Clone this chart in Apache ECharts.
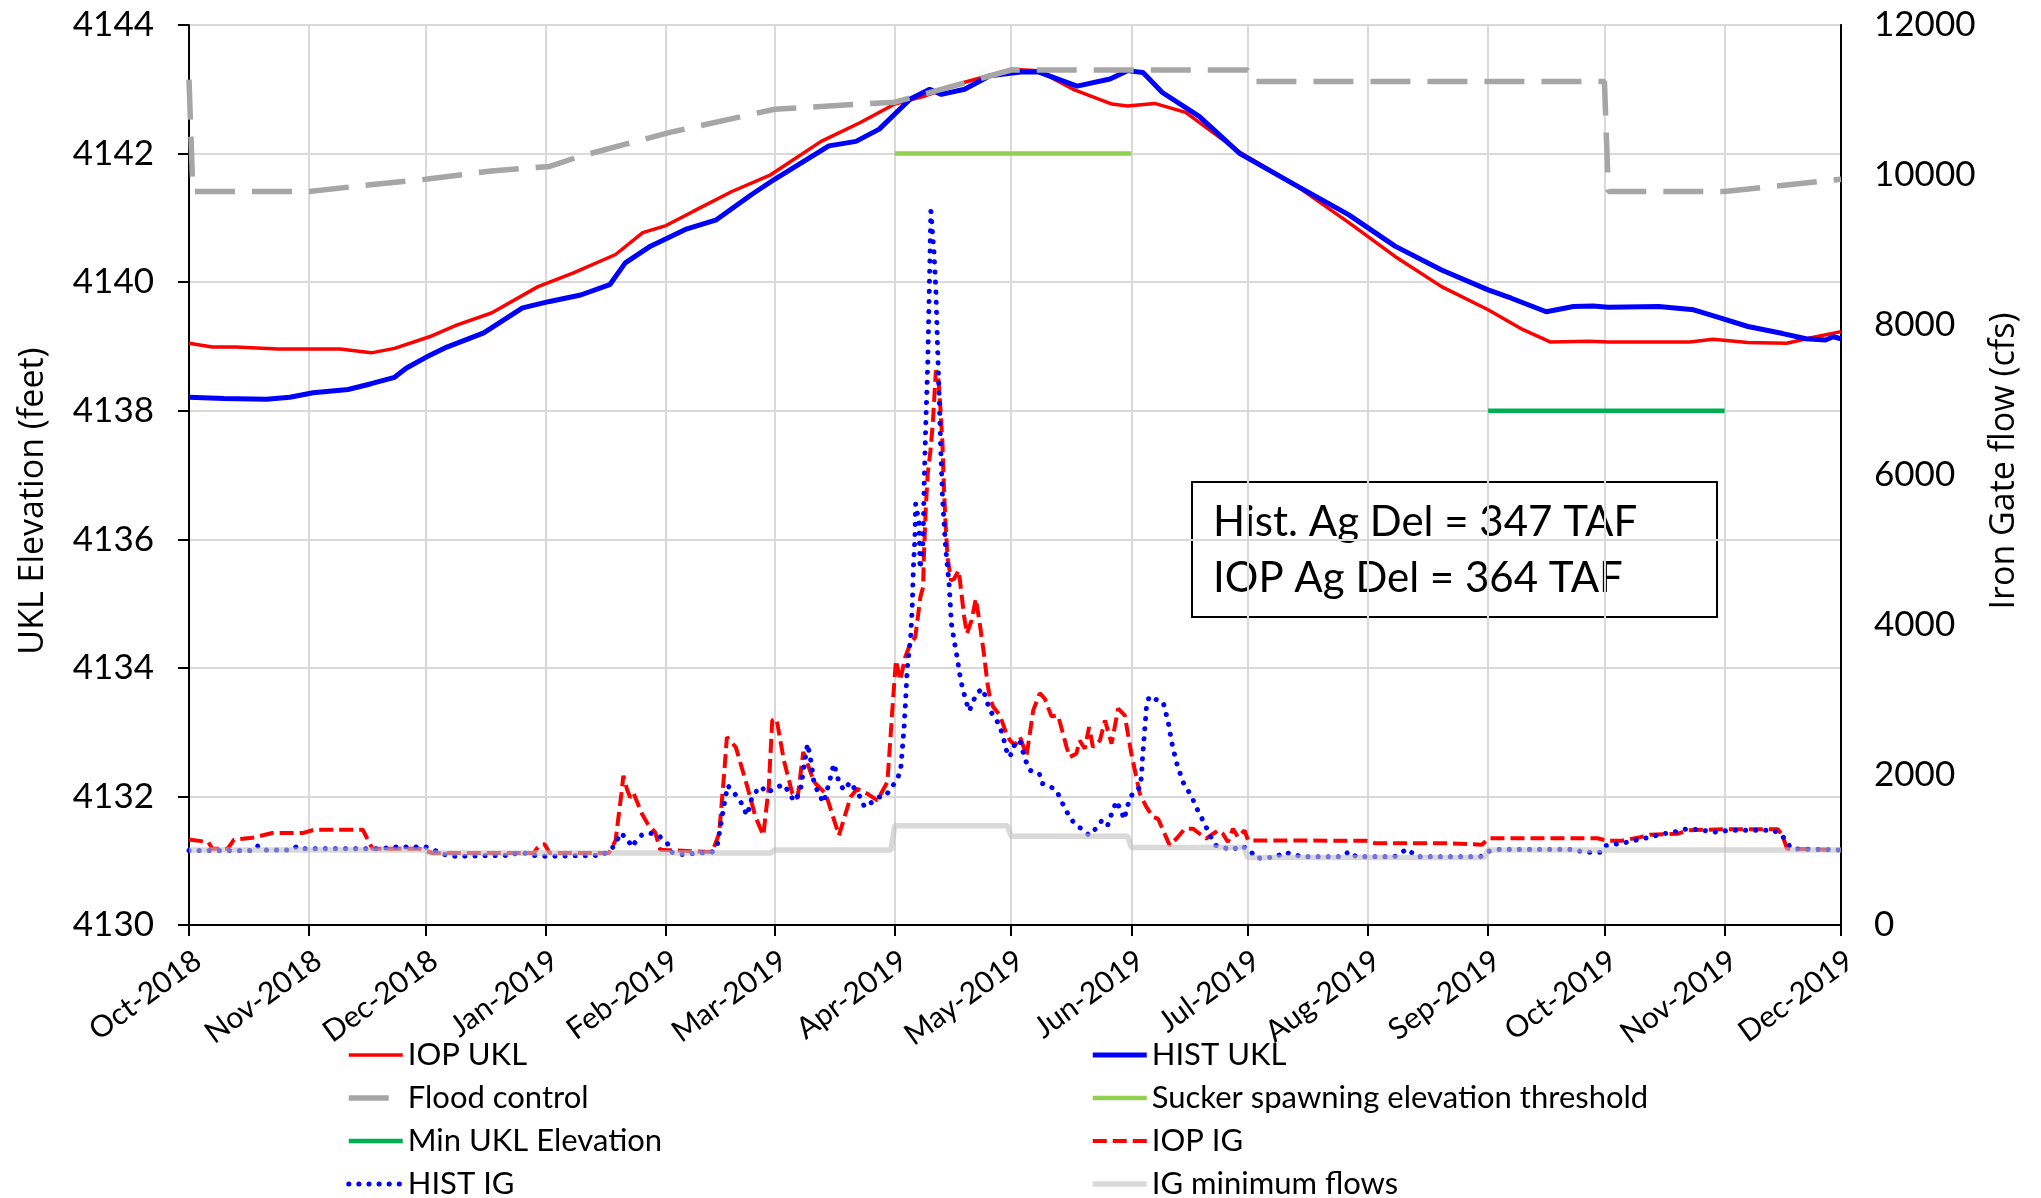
<!DOCTYPE html>
<html>
<head>
<meta charset="utf-8">
<script src="https://cdn.jsdelivr.net/npm/echarts@6/dist/echarts.min.js"></script>
<style>
  html, body { margin: 0; padding: 0; background: #fff; }
  #chart { width: 2041px; height: 1198px; }
</style>
</head>
<body>
<div id="chart"></div>
<script>
// x values are days since 1-Oct-2018
const iopUklDay = [0, 6, 12, 23, 39, 47, 53, 62, 69, 78, 90, 99, 110, 117, 123, 130, 140, 150, 163, 173, 182, 190, 200, 212, 219, 228, 238, 242, 249, 257, 271, 285, 299, 311, 323, 335, 344, 351, 361, 366, 387, 393, 402, 412, 418, 426]
const iopUklVal = [4139.05, 4138.99, 4138.99, 4138.96, 4138.96, 4138.90, 4138.97, 4139.15, 4139.33, 4139.52, 4139.93, 4140.14, 4140.43, 4140.77, 4140.88, 4141.10, 4141.41, 4141.67, 4142.19, 4142.48, 4142.77, 4142.90, 4143.11, 4143.31, 4143.29, 4143.00, 4142.77, 4142.74, 4142.78, 4142.64, 4142.02, 4141.52, 4140.93, 4140.40, 4139.93, 4139.57, 4139.26, 4139.07, 4139.08, 4139.07, 4139.07, 4139.11, 4139.06, 4139.05, 4139.13, 4139.23]

const histUklDay = [0, 9, 20, 26, 32, 41, 47, 53, 56, 62, 66.5, 76, 86, 93, 101, 108.5, 112.5, 119, 128, 136, 145, 151, 165, 172, 178, 186, 191, 194, 200, 206.5, 214.5, 219, 229, 237.5, 242, 246, 251, 260.5, 271, 285, 299, 311, 323, 335, 341, 350, 357, 362, 366, 379, 388, 394, 402, 411, 417, 422, 424, 426]
const histUklVal = [4138.21, 4138.19, 4138.18, 4138.21, 4138.28, 4138.33, 4138.42, 4138.52, 4138.66, 4138.86, 4138.99, 4139.21, 4139.60, 4139.70, 4139.80, 4139.96, 4140.30, 4140.56, 4140.82, 4140.97, 4141.36, 4141.60, 4142.12, 4142.19, 4142.38, 4142.85, 4143.00, 4142.92, 4143.00, 4143.21, 4143.27, 4143.27, 4143.05, 4143.16, 4143.29, 4143.26, 4142.95, 4142.58, 4142.00, 4141.52, 4141.05, 4140.56, 4140.19, 4139.88, 4139.75, 4139.54, 4139.62, 4139.63, 4139.61, 4139.62, 4139.57, 4139.46, 4139.31, 4139.20, 4139.12, 4139.10, 4139.15, 4139.12]

const floodDay = [0, 1, 31, 43, 61, 78, 93, 101, 124, 130, 151, 165, 182, 188, 212, 273, 274, 365, 366, 396, 426]
const floodVal = [4143.15, 4141.41, 4141.41, 4141.49, 4141.60, 4141.73, 4141.80, 4141.96, 4142.33, 4142.41, 4142.69, 4142.74, 4142.80, 4142.90, 4143.30, 4143.30, 4143.12, 4143.12, 4141.41, 4141.41, 4141.60]

const suckerDay = [182, 243]
const suckerVal = [4142, 4142]

const minUklDay = [335, 396]
const minUklVal = [4138, 4138]

const iopIgDay = [0, 5, 6, 10, 11.6, 16.4, 21.5, 29.3, 32.3, 44.8, 47.3, 59.4, 62.8, 88.9, 90.3, 91.7, 93, 108.3, 110, 111.5, 112, 113, 113.8, 114.6, 116.8, 118.5, 120.2, 121.5, 123, 134.9, 136.7, 138, 138.7, 141, 144, 146.1, 148.1, 149.5, 150.4, 151.5, 153.4, 155.6, 156.9, 158.4, 161.2, 164.2, 167.6, 170.6, 172.3, 174.9, 177.5, 180.1, 181.6, 182.3, 183.4, 184.7, 186, 187.3, 188.6, 189.3, 189.5, 190, 190.5, 191.2, 191.8, 192.2, 192.6, 193.2, 193.7, 194.3, 194.7, 195.1, 195.6, 196.5, 197.3, 198.5, 199.9, 200.6, 201.8, 202.9, 203.8, 205.1, 205.9, 206.6, 207.4, 209.1, 210.8, 211.7, 213, 214.3, 216, 217.7, 219.4, 220.7, 222.4, 224.1, 226.3, 227.1, 228.8, 229.7, 231, 232.1, 233.1, 234.9, 236.2, 237.9, 239.6, 241.3, 243, 245.2, 246.9, 248.6, 249.9, 251.2, 252.9, 254.6, 256.8, 258.9, 260.6, 262.3, 264.1, 265.4, 266.6, 267.9, 269.2, 270.5, 272.2, 273.1, 303.5, 305.9, 324.2, 333.4, 335.2, 363.2, 365.7, 369.4, 374.2, 376.7, 384, 386.5, 396.3, 409.7, 410.9, 412.1, 426]
const iopIgVal = [1140, 1105, 1017, 1017, 1137, 1164, 1226, 1226, 1271, 1271, 1017, 1017, 960, 960, 1061, 1076, 960, 960, 1128, 1750, 1990, 1800, 1700, 1760, 1484, 1328, 1239, 1004, 1000, 972, 1217, 2017, 2506, 2372, 1839, 1439, 1195, 1839, 2728, 2751, 2195, 1751, 1684, 2306, 1906, 1751, 1195, 1706, 1817, 1751, 1662, 1906, 3039, 3528, 3262, 3573, 3751, 3839, 4373, 4506, 4906, 5573, 6017, 6328, 6684, 7040, 7395, 7306, 6951, 6417, 5795, 5350, 4906, 4595, 4617, 4728, 4106, 3884, 4061, 4350, 4061, 3573, 3217, 3017, 2906, 2795, 2551, 2461, 2395, 2506, 2262, 2862, 3092, 3017, 2782, 2795, 2372, 2239, 2284, 2461, 2351, 2639, 2372, 2461, 2728, 2417, 2884, 2795, 2284, 1751, 1572, 1439, 1417, 1261, 1061, 1151, 1284, 1284, 1217, 1151, 1217, 1261, 1217, 1106, 1284, 1172, 1261, 1128, 1123, 1090, 1091, 1070, 1156, 1156, 1123, 1123, 1171, 1203, 1217, 1264, 1277, 1277, 1194, 1016, 1000]

const histIgDay = [0, 16, 17.5, 19, 26.5, 27.8, 29, 50, 52, 61, 63, 65.2, 67.8, 83, 84.5, 86.5, 88, 91, 106.4, 108.8, 110.3, 111.1, 112.9, 114.2, 115.2, 116.9, 118.9, 121.1, 123.4, 124.3, 127, 134.9, 136.3, 137.6, 138.9, 140.6, 142.3, 143.9, 145.3, 147.5, 149, 150.8, 153.3, 154.7, 156, 157.6, 159.5, 160.5, 161.2, 163.6, 165, 166.3, 167.6, 168.9, 170.5, 173.2, 174.2, 175.8, 177.9, 179.6, 180.9, 182.5, 183.5, 184.4, 184.8, 185.2, 186.1, 186.5, 186.8, 187.2, 187.4, 188.3, 188.5, 189.2, 189.4, 189.6, 190, 190.5, 190.9, 191.3, 192.1, 192.6, 193, 193.4, 193.8, 194.3, 195.1, 196, 196.6, 197.3, 198.2, 199, 200.3, 201.2, 203.1, 204.7, 206.5, 208.2, 209.1, 210, 210.5, 211.4, 212.6, 213, 214.3, 215, 215.8, 216.9, 219.3, 219.8, 222, 223.7, 224.8, 225.9, 227.2, 228.7, 230.6, 232.1, 233.8, 235.3, 236.8, 238.2, 239.2, 240.2, 241.3, 241.6, 242.6, 243.6, 245.2, 245.6, 245.9, 246.1, 246.5, 246.9, 247.6, 249.5, 251.2, 252.5, 253.4, 254.6, 256.3, 257.6, 258.9, 259.9, 261.1, 262.3, 263.4, 264.8, 266.8, 269.2, 271.1, 273.5, 275.1, 280.4, 282.3, 284.7, 287.3, 297.4, 299.2, 301, 310.8, 314.2, 316.5, 333, 335.1, 337.8, 357.3, 359.7, 364, 365, 370.5, 376.6, 380.3, 384, 386.5, 393.8, 397.5, 408.5, 410.7, 412.1, 413.4, 426]
const histIgVal = [995, 995, 1061, 1000, 1000, 1048, 1017, 1017, 1040, 1040, 1004, 950, 915, 928, 959, 959, 935, 915, 928, 1004, 1106, 1226, 1164, 1039, 1115, 1208, 1226, 1195, 1084, 972, 941, 972, 1084, 1484, 1861, 1759, 1639, 1461, 1728, 1848, 1759, 1817, 1875, 1772, 1648, 1772, 2417, 2150, 1884, 1630, 1884, 2150, 1906, 1795, 1906, 1697, 1572, 1626, 1706, 1715, 1817, 1928, 2061, 2639, 2995, 3417, 3839, 4239, 4772, 5172, 5617, 5350, 4750, 5039, 5395, 5928, 6684, 7484, 8462, 9519, 8973, 8462, 7751, 7128, 6417, 5706, 5039, 4550, 4017, 3795, 3528, 3262, 2995, 2852, 3092, 3151, 2862, 2737, 2639, 2506, 2372, 2239, 2319, 2439, 2452, 2319, 2186, 2061, 2017, 1892, 1848, 1795, 1671, 1551, 1431, 1328, 1271, 1195, 1284, 1386, 1315, 1528, 1652, 1528, 1408, 1528, 1671, 1786, 1830, 1972, 2239, 2372, 2639, 2906, 3048, 3004, 2972, 2706, 2439, 2172, 1906, 1795, 1671, 1551, 1431, 1306, 1182, 1061, 1031, 1004, 1061, 1004, 890, 906, 972, 941, 910, 910, 983, 910, 910, 1016, 910, 910, 983, 1007, 1007, 970, 970, 1054, 1100, 1171, 1217, 1249, 1287, 1240, 1264, 1264, 1203, 1091, 1016, 1000]

const igMinDay = [0, 61, 62, 150, 151, 181, 182, 211, 212, 242, 243, 272, 273, 334, 335, 426]
const igMinVal = [1000, 1000, 960, 960, 1000, 1000, 1325, 1325, 1185, 1185, 1035, 1035, 900, 900, 1000, 1000]

const monthNames = ['Jan', 'Feb', 'Mar', 'Apr', 'May', 'Jun', 'Jul', 'Aug', 'Sep', 'Oct', 'Nov', 'Dec']
const boxLines = ['Hist. Ag Del = 347 TAF', 'IOP Ag Del = 364 TAF']

const DAY = 86400000
const start = new Date(2018, 9, 1).getTime()
const end = new Date(2019, 11, 1).getTime()
const pts = (days, vals) => days.map((d, i) => [start + d * DAY, vals[i]])

const FONT = 'Lato'

function lineSeries(name, days, vals, axis, color, width, type, cap) {
  return {
    name: name,
    type: 'line',
    yAxisIndex: axis,
    symbol: 'none',
    showSymbol: false,
    data: pts(days, vals),
    // symbol hidden so the legend only shows the line
    itemStyle: { color: color, opacity: 0 },
    lineStyle: { color: color, width: width, type: type || 'solid', cap: cap || 'butt' },
    emphasis: { disabled: true }
  }
}

const chart = echarts.init(document.getElementById('chart'))
const legendText = { fontFamily: FONT, fontSize: 31, color: '#000', lineHeight: 32 }
const legendBase = {
  orient: 'vertical', top: 1034, height: 200, itemGap: 11,
  itemWidth: 54, itemHeight: 14,
  itemStyle: { opacity: 0 },
  lineStyle: { width: 'inherit' },
  textStyle: legendText
}

const option = {
  animation: false,
  backgroundColor: '#fff',
  grid: {
    left: 189, right: 200, top: 25, bottom: 273,
    show: true, borderColor: '#000', borderWidth: 2
  },
  legend: [
    Object.assign({}, legendBase, {
      left: 341,
      data: ['IOP UKL', 'Flood control', 'Min UKL Elevation', 'HIST IG']
    }),
    Object.assign({}, legendBase, {
      left: 1085,
      data: ['HIST UKL', 'Sucker spawning elevation threshold', 'IOP IG', 'IG minimum flows']
    })
  ],
  xAxis: {
    type: 'time',
    min: start,
    max: end,
    splitNumber: 14,
    minInterval: 28 * DAY,
    maxInterval: 31 * DAY,
    axisLine: { lineStyle: { color: '#000', width: 2 } },
    axisTick: { show: true, length: 11, lineStyle: { color: '#000', width: 2 } },
    splitLine: { show: true, lineStyle: { color: '#D9D9D9', width: 2 } },
    axisLabel: {
      rotate: 36,
      margin: 20,
      align: 'right',
      verticalAlign: 'top',
      showMinLabel: true,
      showMaxLabel: true,
      fontFamily: FONT,
      fontSize: 30,
      color: '#000',
      formatter: function (v) {
        const d = new Date(v)
        return monthNames[d.getMonth()] + '-' + d.getFullYear()
      }
    }
  },
  yAxis: [
    {
      type: 'value',
      min: 4130, max: 4144, interval: 2,
      axisLine: { show: true, lineStyle: { color: '#000', width: 2 } },
      axisTick: { show: true, length: 11, lineStyle: { color: '#000', width: 2 } },
      splitLine: { show: true, lineStyle: { color: '#D9D9D9', width: 2 } },
      axisLabel: { margin: 35, fontFamily: FONT, fontSize: 35, color: '#000', formatter: v => String(v) }
    },
    {
      type: 'value',
      min: 0, max: 12000, interval: 2000,
      position: 'right',
      axisLine: { show: true, lineStyle: { color: '#000', width: 2 } },
      axisTick: { show: false },
      splitLine: { show: false },
      axisLabel: { margin: 33, fontFamily: FONT, fontSize: 35, color: '#000', formatter: v => String(v) }
    }
  ],
  series: [
    lineSeries('IOP UKL', iopUklDay, iopUklVal, 0, '#FF0000', 3.5),
    lineSeries('HIST UKL', histUklDay, histUklVal, 0, '#0000FF', 5),
    lineSeries('Flood control', floodDay, floodVal, 0, '#A6A6A6', 5.5, [40, 17]),
    lineSeries('Sucker spawning elevation threshold', suckerDay, suckerVal, 0, '#92D050', 4.5),
    lineSeries('Min UKL Elevation', minUklDay, minUklVal, 0, '#00B050', 4.5),
    lineSeries('IOP IG', iopIgDay, iopIgVal, 1, '#FF0000', 4, [14, 6]),
    lineSeries('HIST IG', histIgDay, histIgVal, 1, '#0000FF', 5, [0.1, 10], 'round'),
    lineSeries('IG minimum flows', igMinDay, igMinVal, 1, 'rgba(191,191,191,0.6)', 5.5)
  ],
  graphic: [
    {
      type: 'rect',
      shape: { x: 1192, y: 482, width: 525, height: 135 },
      style: { fill: 'none', stroke: '#000', lineWidth: 2 }
    },
    {
      type: 'text', left: 1213, top: 501,
      style: { text: boxLines[0], font: '42px Lato', fill: '#000' }
    },
    {
      type: 'text', left: 1213, top: 557,
      style: { text: boxLines[1], font: '42px Lato', fill: '#000' }
    },
    {
      type: 'text', x: 33, y: 501, rotation: Math.PI / 2,
      style: { text: 'UKL Elevation (feet)', font: '34px "Open Sans"', fill: '#000', align: 'center', verticalAlign: 'middle' }
    },
    {
      type: 'text', x: 2004, y: 461, rotation: Math.PI / 2,
      style: { text: 'Iron Gate flow (cfs)', font: '34px "Open Sans"', fill: '#000', align: 'center', verticalAlign: 'middle' }
    }
  ]
}

chart.setOption(option)

window.addEventListener('resize', () => {
  chart.resize()
})
</script>
</body>
</html>
